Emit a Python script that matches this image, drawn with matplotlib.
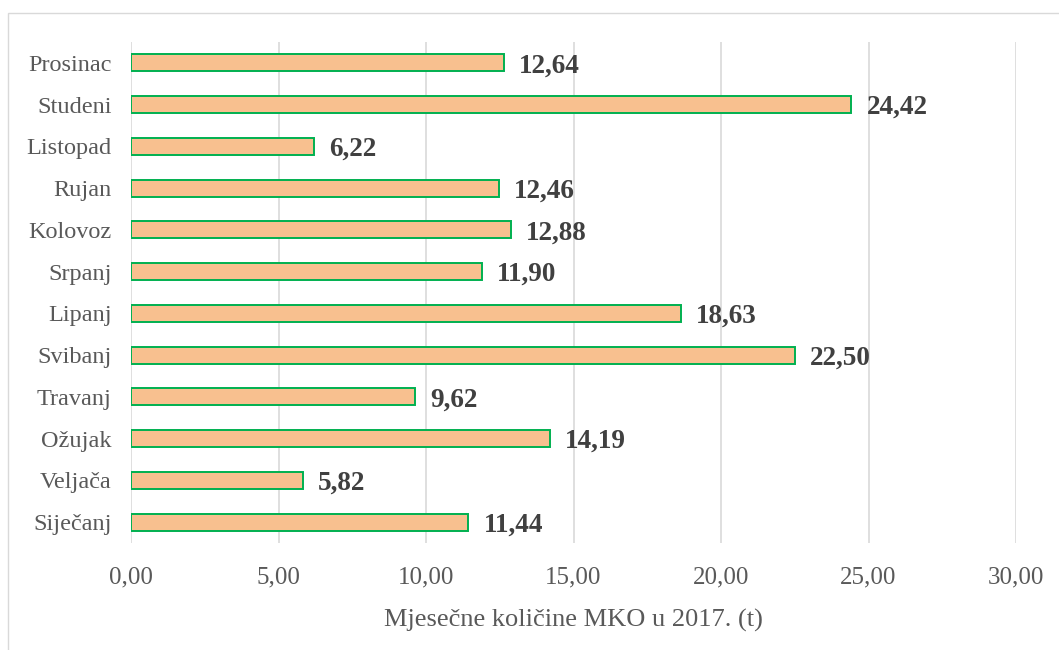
import matplotlib
matplotlib.use("Agg")
import matplotlib.pyplot as plt
from matplotlib.patches import Rectangle

months = ["Siječanj", "Veljača", "Ožujak", "Travanj", "Svibanj", "Lipanj",
          "Srpanj", "Kolovoz", "Rujan", "Listopad", "Studeni", "Prosinac"]
values = [11.44, 5.82, 14.19, 9.62, 22.50, 18.63, 11.90, 12.88, 12.46, 6.22, 24.42, 12.64]
xticks = [0, 5, 10, 15, 20, 25, 30]
xlabel = "Mjesečne količine MKO u 2017. (t)"

plt.rcParams['font.family'] = ['Liberation Serif', 'DejaVu Serif']

W, H = 1059, 650
fig = plt.figure(figsize=(W / 100, H / 100), dpi=100)
ax = fig.add_axes([131 / W, 1 - 543 / H, (1016 - 131) / W, (543 - 42) / H])

# outer chart border
fig.patches.append(Rectangle((8 / W, -0.1), 1.2, 1 - 13 / H + 0.1, transform=fig.transFigure,
                             fill=False, edgecolor="#D9D9D9", linewidth=1.0))

y = list(range(len(months)))
ax.barh(y, values, height=0.41, color="#F8C08F", edgecolor="#00B050", linewidth=1.4, zorder=3)

for yi, v in zip(y, values):
    ax.annotate(f"{v:.2f}".replace(".", ","), xy=(v, yi), xytext=(15, -3),
                textcoords="offset pixels",
                va="center", ha="left", fontsize=19.5, fontweight="bold", color="#404040")

ax.set_xlim(0, 30)
ax.set_ylim(-0.5, len(months) - 0.5)
ax.set_xticks(xticks)
ax.set_xticklabels([f"{t:.2f}".replace(".", ",") for t in xticks], fontsize=18, color="#595959")
ax.set_yticks(y)
ax.set_yticklabels(months, fontsize=17.5, color="#595959")
ax.tick_params(axis="both", length=0)
ax.tick_params(axis="x", pad=17)
ax.tick_params(axis="y", pad=14)
ax.grid(axis="x", color="#D9D9D9", linewidth=1.2, zorder=0)
for s in ax.spines.values():
    s.set_visible(False)

fig.text((131 + 1016) / 2 / W, 1 - 620 / H, xlabel, ha="center", va="center",
         fontsize=19, color="#595959")

fig.savefig("out.png", dpi=100)
